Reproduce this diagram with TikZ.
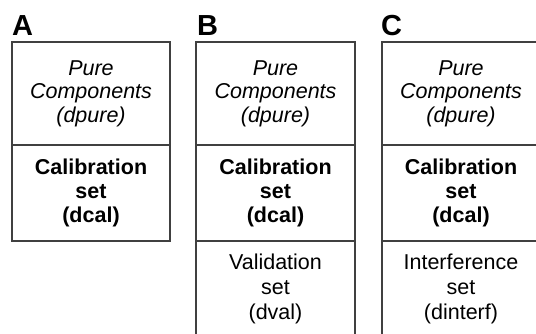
\documentclass[tikz,border=0pt]{standalone}
\usepackage{fontspec}
\setmainfont{Liberation Sans}
\usetikzlibrary{positioning}
\tikzset{
    cell/.style = {
        rectangle,
        draw=black!75,
        line width=1.3pt,
        minimum width=158pt,
        inner sep=0pt,
        outer sep=0pt,
        align=center
    },
    pure/.style = {
        cell,
        minimum height=103pt,
        font=\fontsize{21.5}{23.5}\selectfont\itshape
    },
    calib/.style = {
        cell,
        minimum height=96pt,
        font=\fontsize{21.5}{24}\selectfont\bfseries
    },
    extra/.style = {
        cell,
        minimum height=96pt,
        font=\fontsize{21.5}{25}\selectfont
    },
    panel/.style = {
        inner sep=0pt,
        font=\fontsize{29}{30}\selectfont\bfseries
    }
}

\begin{document}
\begin{tikzpicture}[x=1pt,y=1pt]
\useasboundingbox (0,0) rectangle (536,-333);
\clip (0,0) rectangle (536,-333);

% panel A
\node[pure, anchor=north west] (pureA) at (12,-42) {Pure\\Components\\(dpure)};
\node[calib, below=0pt of pureA] (calA) {Calibration\\set\\(dcal)};
\node[panel, above right=6pt and 0pt of pureA.north west] (labA) {A};

% panel B
\node[pure, minimum width=159pt, anchor=north west] (pureB) at (196,-42) {Pure\\Components\\(dpure)};
\node[calib, minimum width=159pt, below=0pt of pureB] (calB) {Calibration\\set\\(dcal)};
\node[extra, minimum width=159pt, below=0pt of calB] (valB) {Validation\\set\\(dval)};
\node[panel, above right=6pt and 1pt of pureB.north west] (labB) {B};

% panel C
\node[pure, anchor=north west] (pureC) at (382,-42) {Pure\\Components\\(dpure)};
\node[calib, below=0pt of pureC] (calC) {Calibration\\set\\(dcal)};
\node[extra, below=0pt of calC] (intC) {Interference\\set\\(dinterf)};
\node[panel, above right=6pt and -1pt of pureC.north west] (labC) {C};
\end{tikzpicture}
\end{document}
